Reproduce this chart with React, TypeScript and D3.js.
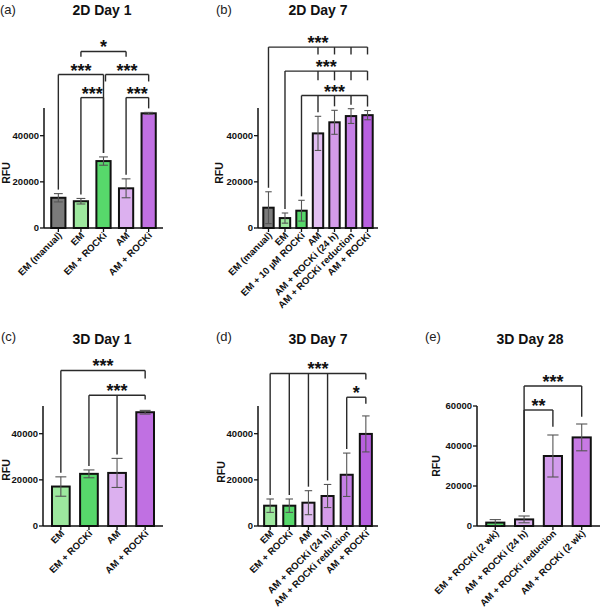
import React from "react";
import * as d3 from "d3";

// ---------- DATA ----------
const catsA = ["EM (manual)", "EM", "EM + ROCKi", "AM", "AM + ROCKi"];
const valsA = [13100, 11600, 29000, 17200, 49700];
const errA = [1800, 1200, 1800, 4100, 400];
const colorsA = ["#7b7b7b", "#9de89e", "#57d86b", "#dcb0ef", "#c070e2"];

const catsB = ["EM (manual)", "EM", "EM + 10 µM ROCKi", "AM", "AM + ROCKi (24 h)", "AM + ROCKi reduction", "AM + ROCKi"];
const valsB = [8800, 4300, 7500, 41000, 45800, 48500, 48900];
const errB = [6900, 2200, 4500, 7400, 5200, 3200, 2000];
const colorsB = ["#7b7b7b", "#9de89e", "#57d86b", "#e2bff2", "#d49be9", "#c57fe6", "#b860e0"];

const catsC = ["EM", "EM + ROCKi", "AM", "AM + ROCKi"];
const valsC = [17100, 22600, 23000, 49300];
const errC = [4200, 1700, 6300, 800];
const colorsC = ["#9de89e", "#57d86b", "#dcb0ef", "#c070e2"];

const catsD = ["EM", "EM + ROCKi", "AM", "AM + ROCKi (24 h)", "AM + ROCKi reduction", "AM + ROCKi"];
const valsD = [8800, 8800, 10100, 13000, 22200, 39900];
const errD = [2900, 2900, 5200, 5000, 9400, 7800];
const colorsD = ["#9de89e", "#57d86b", "#e2bff2", "#d49be9", "#c57fe6", "#b860e0"];

const catsE = ["EM + ROCKi (2 wk)", "AM + ROCKi (24 h)", "AM + ROCKi reduction", "AM + ROCKi (2 wk)"];
const valsE = [1700, 3300, 35000, 44300];
const errE = [1500, 1700, 10500, 6700];
const colorsE = ["#57d86b", "#dcb0ef", "#d29cec", "#c77ae4"];

const ticksABCD = [0, 20000, 40000];
const ticksE = [0, 20000, 40000, 60000];

// brackets: from/to category index, level (RFU), label, legs [index, end RFU or null = error-bar top]
type Leg = [number, number | null];
type Bracket = { from: number; to: number; level: number; label: string; legs: Leg[]; shift?: number };

const bracketsA: Bracket[] = [
  { from: 0, to: 2, level: 66500, label: "***", legs: [[0, null], [2, null]] },
  { from: 1, to: 2, level: 56500, label: "***", legs: [[1, null], [2, null]] },
  { from: 3, to: 4, level: 56500, label: "***", legs: [[3, null], [4, null]] },
  { from: 2, to: 4, level: 66500, label: "***", legs: [[2, 63500], [4, 63500]], shift: 2 },
  { from: 1, to: 3, level: 76500, label: "*", legs: [[1, 74200], [3, 74200]] },
];
const bracketsB: Bracket[] = [
  { from: 0, to: 6, level: 78400, label: "***", legs: [[0, null], [3, 75200], [4, 75200], [5, 75200], [6, 75200]] },
  { from: 1, to: 6, level: 68000, label: "***", legs: [[1, null], [3, 64000], [4, 64000], [5, 64000], [6, 64000]] },
  { from: 2, to: 6, level: 57400, label: "***", legs: [[2, null], [3, null], [4, null], [5, null], [6, null]] },
];
const bracketsC: Bracket[] = [
  { from: 0, to: 3, level: 67400, label: "***", legs: [[0, null], [3, 63900]] },
  { from: 1, to: 3, level: 56650, label: "***", legs: [[1, null], [2, null], [3, 54800]] },
];
const bracketsD: Bracket[] = [
  { from: 0, to: 5, level: 66100, label: "***", legs: [[0, null], [1, null], [2, null], [3, null], [5, 63500]] },
  { from: 4, to: 5, level: 55800, label: "*", legs: [[4, null], [5, 53000]] },
];
const bracketsE: Bracket[] = [
  { from: 1, to: 3, level: 70000, label: "***", legs: [[1, null], [3, 54650]] },
  { from: 1, to: 2, level: 58000, label: "**", legs: [[1, null], [2, 49650]] },
];

// ---------- LAYOUT ----------
type PanelSpec = {
  tag: string; title: string; cats: string[]; vals: number[]; errs: number[]; colors: string[];
  ticks: number[]; yMax: number; brackets: Bracket[];
  x0: number; x1: number; base: number; top: number;
  tagX: number; tagY: number; titleX: number; titleY: number; rfuX: number; rfuY: number;
};

const panels: PanelSpec[] = [
  { tag: "(a)", title: "2D Day 1", cats: catsA, vals: valsA, errs: errA, colors: colorsA, ticks: ticksABCD, yMax: 52000, brackets: bracketsA,
    x0: 44, x1: 163, base: 228, top: 108, tagX: 0, tagY: 14, titleX: 102, titleY: 15, rfuX: 10, rfuY: 173 },
  { tag: "(b)", title: "2D Day 7", cats: catsB, vals: valsB, errs: errB, colors: colorsB, ticks: ticksABCD, yMax: 52000, brackets: bracketsB,
    x0: 258, x1: 378, base: 228, top: 108, tagX: 216, tagY: 14, titleX: 318, titleY: 15, rfuX: 223, rfuY: 173 },
  { tag: "(c)", title: "3D Day 1", cats: catsC, vals: valsC, errs: errC, colors: colorsC, ticks: ticksABCD, yMax: 52000, brackets: bracketsC,
    x0: 43, x1: 163, base: 526, top: 406, tagX: 1, tagY: 341, titleX: 102, titleY: 344, rfuX: 10, rfuY: 470 },
  { tag: "(d)", title: "3D Day 7", cats: catsD, vals: valsD, errs: errD, colors: colorsD, ticks: ticksABCD, yMax: 52000, brackets: bracketsD,
    x0: 258, x1: 378, base: 526, top: 406, tagX: 216, tagY: 341, titleX: 318, titleY: 344, rfuX: 225, rfuY: 472 },
  { tag: "(e)", title: "3D Day 28", cats: catsE, vals: valsE, errs: errE, colors: colorsE, ticks: ticksE, yMax: 60000, brackets: bracketsE,
    x0: 477, x1: 600, base: 526, top: 406, tagX: 425, tagY: 341, titleX: 530, titleY: 344, rfuX: 440, rfuY: 466 },
];

const FONT = "Liberation Sans, Arial, Helvetica, sans-serif";

function Panel({ p }: { p: PanelSpec }) {
  const y = d3.scaleLinear().domain([0, p.yMax]).range([p.base, p.top]);
  const x = d3.scaleBand<number>().domain(d3.range(p.cats.length)).range([p.x0, p.x1]).paddingInner(0.37).paddingOuter(0.32);
  const bw = x.bandwidth();
  const cx = (i: number) => (x(i) as number) + bw / 2;
  const cap = bw * 0.62;
  const errTop = (i: number) => y(p.vals[i] + p.errs[i]);
  const lineColor = "#2a2a2a";

  return (
    <g>
      <text x={p.tagX} y={p.tagY} fontSize={13} fontFamily={FONT} fill="#222">{p.tag}</text>
      <text x={p.titleX} y={p.titleY} fontSize={14} fontWeight="bold" fontFamily={FONT} textAnchor="middle" fill="#111">{p.title}</text>
      <text transform={`translate(${p.rfuX},${p.rfuY}) rotate(-90)`} fontSize={10.5} fontWeight="bold" fontFamily={FONT} textAnchor="middle" fill="#111">RFU</text>

      {/* bars */}
      {p.vals.map((v, i) => (
        <rect key={"b" + i} x={x(i)} y={y(v)} width={bw} height={p.base - y(v)} fill={p.colors[i]} stroke="#111" strokeWidth={2} />
      ))}
      {/* error bars */}
      {p.vals.map((v, i) => {
        const t = y(v + p.errs[i]);
        const b = y(Math.max(0, v - p.errs[i]));
        return (
          <g key={"e" + i} stroke="#555" strokeWidth={1.1}>
            <line x1={cx(i)} x2={cx(i)} y1={t} y2={b} />
            <line x1={cx(i) - cap / 2} x2={cx(i) + cap / 2} y1={t} y2={t} />
            <line x1={cx(i) - cap / 2} x2={cx(i) + cap / 2} y1={b} y2={b} />
          </g>
        );
      })}

      {/* axes */}
      <line x1={p.x0} x2={p.x0} y1={p.top} y2={p.base} stroke="#111" strokeWidth={1.5} />
      <line x1={p.x0} x2={p.x1} y1={p.base} y2={p.base} stroke="#111" strokeWidth={1.5} />
      {p.ticks.map((t) => (
        <g key={"t" + t}>
          <line x1={p.x0 - 4} x2={p.x0} y1={y(t)} y2={y(t)} stroke="#111" strokeWidth={1.3} />
          <text x={p.x0 - 5} y={y(t)} dy="0.35em" textAnchor="end" fontSize={9.5} fontWeight="bold" fontFamily={FONT} fill="#111">{t}</text>
        </g>
      ))}
      {p.cats.map((c, i) => (
        <g key={"x" + i}>
          <line x1={cx(i)} x2={cx(i)} y1={p.base} y2={p.base + 4} stroke="#111" strokeWidth={1.3} />
          <text transform={`translate(${cx(i) + 4},${p.base + 8}) rotate(-45)`} textAnchor="end" fontSize={9.6} fontWeight="bold" fontFamily={FONT} fill="#111">{c}</text>
        </g>
      ))}

      {/* significance brackets */}
      {p.brackets.map((br, k) => {
        const ly = y(br.level);
        const xa = cx(br.from) + (br.shift || 0);
        const xb = cx(br.to);
        return (
          <g key={"br" + k}>
            <line x1={xa} x2={xb} y1={ly} y2={ly} stroke={lineColor} strokeWidth={1.4} />
            {br.legs.map(([i, end], j) => {
              const ey = end === null ? errTop(i) - 4 : y(end);
              const lx = i === br.from ? xa : cx(i);
              return <line key={j} x1={lx} x2={lx} y1={ly} y2={ey} stroke={lineColor} strokeWidth={1.4} />;
            })}
            <text x={(xa + xb) / 2} y={ly + 2} textAnchor="middle" fontSize={18} fontWeight="bold" fontFamily={FONT} fill="#111">{br.label}</text>
          </g>
        );
      })}
    </g>
  );
}

export default function App() {
  return (
    <svg width={600} height={610} style={{ position: "absolute", left: 0, top: 0, background: "#fff" }}>
      <rect width={600} height={610} fill="#fff" />
      {panels.map((p) => (
        <Panel key={p.tag} p={p} />
      ))}
    </svg>
  );
}
